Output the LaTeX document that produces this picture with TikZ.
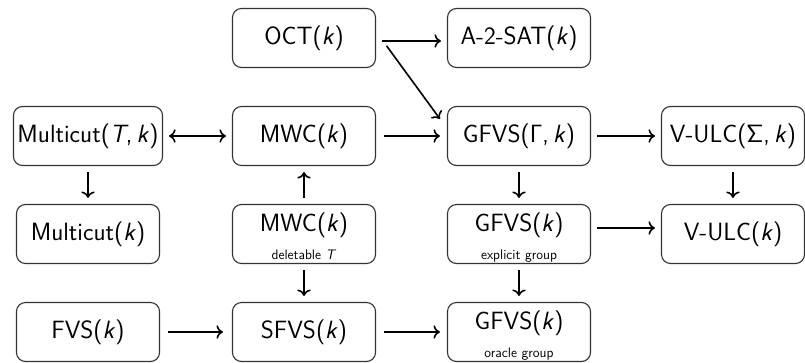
\documentclass[tikz,border=0pt]{standalone}
\usepackage{fontspec}
\usetikzlibrary{arrows.meta}
\begin{document}
\begin{tikzpicture}[x=1pt,y=-1pt,
  box/.style={draw=black!80, line width=1.1pt, rounded corners=9pt,
    minimum width=143pt, inner xsep=4pt, inner ysep=0pt,
    text height=35.5pt, text depth=23.5pt,
    font=\fontsize{25}{30}\sffamily},
  twoline/.style={box, text height=27pt, text depth=32pt},
  tip/.tip={Computer Modern Rightarrow[length=6.5pt,width=13.5pt]},
  arr/.style={-tip, line width=1.6pt, shorten <=6pt, shorten >=6pt},
]
\newcommand{\subtxt}[1]{{\fontsize{13.8}{15}\selectfont #1}}
\useasboundingbox (0,0) rectangle (805,362);

% row 1
\node[box] (oct)   at (304,38) {OCT(\textit{k})};
\node[box] (a2sat) at (519,38) {A-2-SAT(\textit{k})};
% row 2
\node[box] (mcT)   at (88,136)  {Multicut(\textit{T},\,\textit{k})};
\node[box] (mwc)   at (304,136) {MWC(\textit{k})};
\node[box] (gfvsG) at (519,136) {GFVS(Γ,\,\textit{k})};
\node[box] (vulcS) at (733,136) {V-ULC(Σ,\,\textit{k})};
% row 3
\node[box] (mc)    at (88,234)  {Multicut(\textit{k})};
\node[twoline] (mwcd) at (304,234)
  {\begin{tabular}[t]{@{}c@{}}MWC(\textit{k})\\[-2pt]\subtxt{deletable \textit{T}}\end{tabular}};
\node[twoline] (gexp) at (519,234)
  {\begin{tabular}[t]{@{}c@{}}GFVS(\textit{k})\\[-2pt]\subtxt{explicit group}\end{tabular}};
\node[box] (vulc)  at (733,234) {V-ULC(\textit{k})};
% row 4
\node[box] (fvs)   at (88,332)  {FVS(\textit{k})};
\node[box] (sfvs)  at (304,332) {SFVS(\textit{k})};
\node[twoline] (gor) at (519,332)
  {\begin{tabular}[t]{@{}c@{}}GFVS(\textit{k})\\[-2pt]\subtxt{oracle group}\end{tabular}};

% horizontal reductions
\draw[arr] ([yshift=-3pt]oct.east) -- ([yshift=-3pt]a2sat.west);
\draw[arr, shorten >=0pt] ([xshift=7pt,yshift=-3pt]oct.east) -- ([xshift=-7pt,yshift=-13pt]gfvsG.north west);
\draw[arr, tip-tip] (mcT) -- (mwc);
\draw[arr, shorten <=8pt, shorten >=7pt] (mwc) -- (gfvsG);
\draw[arr] (gfvsG) -- (vulcS);
\draw[arr] (gexp.east |- 0,228) -- (vulc.west |- 0,228);
\draw[arr, shorten <=8pt, shorten >=9pt] (fvs) -- (sfvs);
\draw[arr, shorten <=8pt, shorten >=7pt] (sfvs) -- (gor);
% vertical reductions
\draw[arr] (mcT) -- (mc);
\draw[arr] (mwcd) -- (mwc);
\draw[arr] (gfvsG) -- (gexp);
\draw[arr] (vulcS) -- (vulc);
\draw[arr] (mwcd) -- (sfvs);
\draw[arr] (gexp) -- (gor);
\end{tikzpicture}
\end{document}
